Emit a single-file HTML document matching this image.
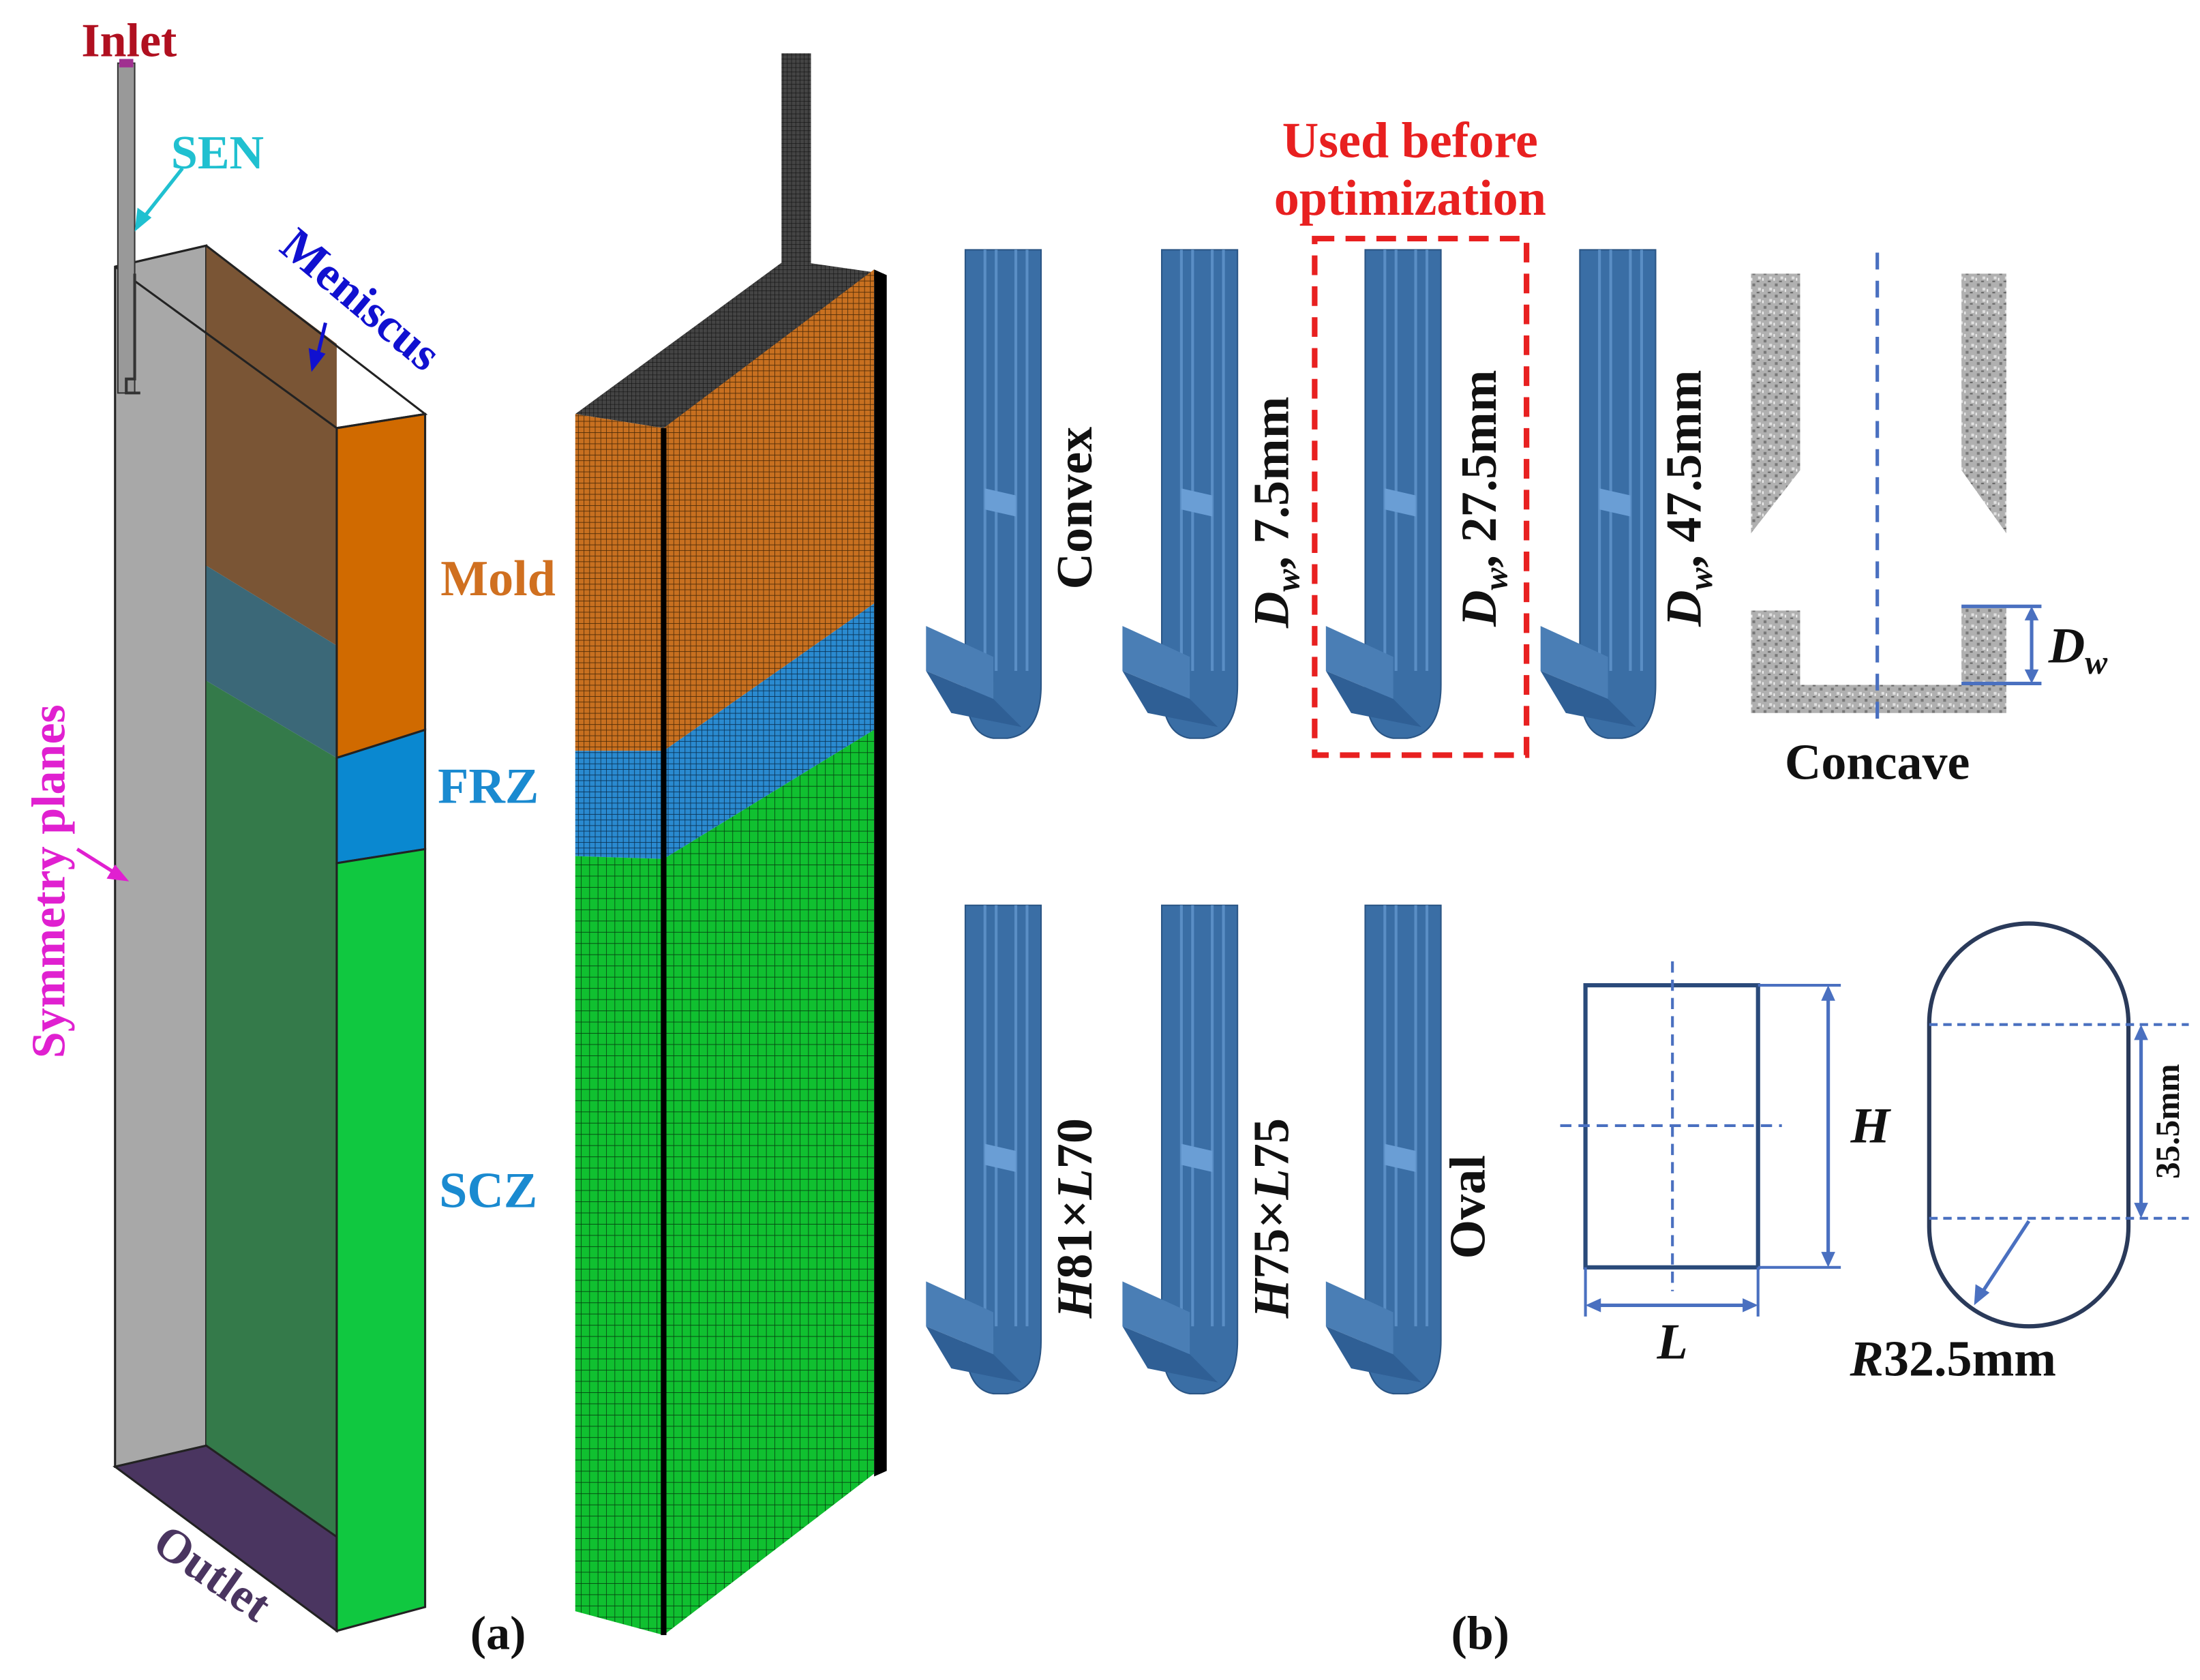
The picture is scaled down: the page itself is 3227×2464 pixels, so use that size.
<!DOCTYPE html>
<html><head><meta charset="utf-8"><style>
html,body{margin:0;padding:0;background:#fff;}
svg{display:block;}
text{font-family:"Liberation Serif",serif;font-weight:bold;}
</style></head><body>
<svg width="3227" height="2464" viewBox="0 0 1568 1197" preserveAspectRatio="none" xmlns="http://www.w3.org/2000/svg">
<defs>
<pattern id="mo" width="4" height="4" patternUnits="userSpaceOnUse"><rect width="4" height="4" fill="#c87020"/><path d="M0 0H4M0 0V4" stroke="#4a2a08" stroke-width="0.8"/></pattern>
<pattern id="mb" width="4" height="4" patternUnits="userSpaceOnUse"><rect width="4" height="4" fill="#2a8ad0"/><path d="M0 0H4M0 0V4" stroke="#0a3050" stroke-width="0.8"/></pattern>
<pattern id="mg" width="6" height="8" patternUnits="userSpaceOnUse"><rect width="6" height="8" fill="#10c030"/><path d="M0 0H6M0 0V8" stroke="#054010" stroke-width="0.8"/></pattern>
<pattern id="mk" width="3" height="3" patternUnits="userSpaceOnUse"><rect width="3" height="3" fill="#444"/><path d="M0 0H3M0 0V3" stroke="#111" stroke-width="0.6"/></pattern>
<pattern id="gr" width="8" height="8" patternUnits="userSpaceOnUse"><rect width="8" height="8" fill="#b0b0b0"/><rect x="1" y="2" width="2" height="2" fill="#777"/><rect x="5" y="5" width="2" height="2" fill="#e0e0e0"/><rect x="4" y="0" width="2" height="1" fill="#666"/><rect x="0" y="6" width="1" height="2" fill="#eee"/></pattern>
<g id="noz">
 <path d="M0 0H54V310Q54 345 30 348H20Q0 345 0 310Z" fill="#3a6ea5" stroke="#2a5585" stroke-width="1"/>
 <path d="M14 0V300M22 0V300M36 0V300M44 0V300" stroke="#5a8ec5" stroke-width="2"/>
 <path d="M14 170L36 175V190L14 185Z" fill="#6a9ed5"/>
 <path d="M-28 268L20 290V320L-28 300Z" fill="#4a7eb5"/>
 <path d="M-28 300L20 320L40 340L-10 330Z" fill="#2f5f95"/>
</g>
</defs>
<rect width="1568" height="1197" fill="#fff"/>

<polygon points="82,190 147,175 147,1030 82,1045" fill="#a8a8a8" stroke="#222" stroke-width="1.5"/>
<polygon points="147,175 240,245 240,460 147,403" fill="#7a5535"/>
<polygon points="147,403 240,460 240,540 147,485" fill="#3b6878"/>
<polygon points="147,485 240,540 240,1095 147,1030" fill="#347a4a"/>
<polygon points="82,1045 147,1030 240,1095 240,1162" fill="#4a3560" stroke="#222" stroke-width="1.5"/>
<polygon points="240,305 303,295 303,520 240,540" fill="#d06a00" stroke="#222" stroke-width="1.5"/>
<polygon points="240,540 303,520 303,605 240,615" fill="#0a88d0" stroke="#222" stroke-width="1.5"/>
<polygon points="240,615 303,605 303,1145 240,1162" fill="#10c840" stroke="#222" stroke-width="1.5"/>
<polyline points="82,190 147,175 303,295 240,305 82,190" fill="none" stroke="#222" stroke-width="1.5"/>
<rect x="84" y="45" width="12" height="235" fill="#999" stroke="#333"/>
<rect x="85" y="42" width="10" height="6" fill="#a03090"/>
<path d="M96 195V270H90V280H100" fill="none" stroke="#333" stroke-width="2"/>

<rect x="557" y="38" width="21" height="152" fill="url(#mk)"/>
<polygon points="410,295 560,185 630,195 473,305" fill="url(#mk)"/>
<polygon points="410,295 473,305 473,535 410,535" fill="url(#mo)"/>
<polygon points="410,535 473,535 473,612 410,610" fill="url(#mb)"/>
<polygon points="410,610 473,612 473,1165 410,1148" fill="url(#mg)"/>
<polygon points="473,305 623,192 623,430 473,535" fill="url(#mo)"/>
<polygon points="473,535 623,430 623,520 473,612" fill="url(#mb)"/>
<polygon points="473,612 623,520 623,1050 473,1165" fill="url(#mg)"/>
<line x1="473" y1="305" x2="473" y2="1165" stroke="#000" stroke-width="4"/>
<polygon points="623,192 632,196 632,1048 623,1052" fill="#000"/>

<text x="92" y="40" font-size="34" fill="#b01020" text-anchor="middle">Inlet</text>
<text x="155" y="120" font-size="34" fill="#20c0d0" text-anchor="middle">SEN</text>
<line x1="130" y1="120" x2="100" y2="158" stroke="#20c0d0" stroke-width="2.5"/>
<polygon points="96,165 98,148 108,155" fill="#20c0d0"/>
<text transform="translate(250,222) rotate(40)" font-size="34" fill="#1010d0" text-anchor="middle">Meniscus</text>
<line x1="232" y1="230" x2="226" y2="255" stroke="#1010d0" stroke-width="2.5"/>
<polygon points="222,265 220,248 232,252" fill="#1010d0"/>
<text x="355" y="424" font-size="36" fill="#d07020" text-anchor="middle">Mold</text>
<text x="348" y="572" font-size="36" fill="#1a8ad0" text-anchor="middle">FRZ</text>
<text x="348" y="860" font-size="36" fill="#1a8ad0" text-anchor="middle">SCZ</text>
<text transform="translate(46,628) rotate(-90)" font-size="34" fill="#e020d0" text-anchor="middle">Symmetry planes</text>
<line x1="55" y1="605" x2="82" y2="622" stroke="#e020d0" stroke-width="2.5"/>
<polygon points="92,628 76,626 82,616" fill="#e020d0"/>
<text transform="translate(145,1130) rotate(35)" font-size="34" fill="#4a3560" text-anchor="middle">Outlet</text>
<text x="355" y="1175" font-size="34" fill="#111" text-anchor="middle">(a)</text>
<text x="1055" y="1175" font-size="34" fill="#111" text-anchor="middle">(b)</text>

<use href="#noz" x="688" y="178"/>
<use href="#noz" x="828" y="178"/>
<use href="#noz" x="973" y="178"/>
<use href="#noz" x="1126" y="178"/>
<use href="#noz" x="688" y="645"/>
<use href="#noz" x="828" y="645"/>
<use href="#noz" x="973" y="645"/>
<text transform="translate(778,362) rotate(-90)" font-size="36" fill="#111" text-anchor="middle">Convex</text>
<text transform="translate(918,365) rotate(-90)" font-size="36" fill="#111" text-anchor="middle" font-style="italic">D<tspan font-size="24" dy="8">w</tspan><tspan dy="-8" font-style="normal">, 7.5mm</tspan></text>
<text transform="translate(1066,355) rotate(-90)" font-size="36" fill="#111" text-anchor="middle" font-style="italic">D<tspan font-size="24" dy="8">w</tspan><tspan dy="-8" font-style="normal">, 27.5mm</tspan></text>
<text transform="translate(1212,355) rotate(-90)" font-size="36" fill="#111" text-anchor="middle" font-style="italic">D<tspan font-size="24" dy="8">w</tspan><tspan dy="-8" font-style="normal">, 47.5mm</tspan></text>
<text transform="translate(778,868) rotate(-90)" font-size="36" fill="#111" text-anchor="middle" font-style="italic">H<tspan font-style="normal">81×</tspan>L<tspan font-style="normal">70</tspan></text>
<text transform="translate(918,868) rotate(-90)" font-size="36" fill="#111" text-anchor="middle" font-style="italic">H<tspan font-style="normal">75×</tspan>L<tspan font-style="normal">75</tspan></text>
<text transform="translate(1058,860) rotate(-90)" font-size="36" fill="#111" text-anchor="middle">Oval</text>

<rect x="937" y="170" width="151" height="368" fill="none" stroke="#e82020" stroke-width="4" stroke-dasharray="14,8"/>
<text x="1005" y="112" font-size="36" fill="#e82020" text-anchor="middle">Used before</text>
<text x="1005" y="153" font-size="36" fill="#e82020" text-anchor="middle">optimization</text>

<polygon points="1248,195 1283,195 1283,335 1248,380" fill="url(#gr)"/>
<polygon points="1398,195 1430,195 1430,380 1398,335" fill="url(#gr)"/>
<polygon points="1248,435 1283,435 1283,488 1398,488 1398,432 1430,432 1430,508 1248,508" fill="url(#gr)"/>
<line x1="1338" y1="180" x2="1338" y2="515" stroke="#4a70c0" stroke-width="2.5" stroke-dasharray="12,8"/>
<path d="M1398 432H1455M1398 487H1455" stroke="#4a70c0" stroke-width="2.5"/>
<line x1="1448" y1="436" x2="1448" y2="483" stroke="#4a70c0" stroke-width="2.5"/>
<polygon points="1448,432 1443,442 1453,442" fill="#4a70c0"/>
<polygon points="1448,487 1443,477 1453,477" fill="#4a70c0"/>
<text x="1460" y="472" font-size="36" fill="#111" font-style="italic">D<tspan font-size="24" dy="8">w</tspan></text>
<text x="1338" y="555" font-size="36" fill="#111" text-anchor="middle">Concave</text>

<rect x="1130" y="702" width="123" height="201" fill="none" stroke="#2a4a7a" stroke-width="3"/>
<line x1="1192" y1="685" x2="1192" y2="920" stroke="#4a70c0" stroke-width="2" stroke-dasharray="8,5"/>
<line x1="1112" y1="802" x2="1270" y2="802" stroke="#4a70c0" stroke-width="2" stroke-dasharray="8,5"/>
<path d="M1253 702H1312M1253 903H1312M1130 903V938M1253 903V938" stroke="#4a70c0" stroke-width="2"/>
<line x1="1303" y1="706" x2="1303" y2="899" stroke="#4a70c0" stroke-width="2.5"/>
<polygon points="1303,702 1298,713 1308,713" fill="#4a70c0"/>
<polygon points="1303,903 1298,892 1308,892" fill="#4a70c0"/>
<line x1="1134" y1="930" x2="1249" y2="930" stroke="#4a70c0" stroke-width="2.5"/>
<polygon points="1130,930 1141,925 1141,935" fill="#4a70c0"/>
<polygon points="1253,930 1242,925 1242,935" fill="#4a70c0"/>
<text x="1333" y="814" font-size="36" fill="#111" text-anchor="middle" font-style="italic">H</text>
<text x="1192" y="968" font-size="36" fill="#111" text-anchor="middle" font-style="italic">L</text>

<rect x="1375" y="658" width="142" height="287" rx="71" ry="71" fill="none" stroke="#2a3a5a" stroke-width="3"/>
<line x1="1375" y1="730" x2="1560" y2="730" stroke="#4a70c0" stroke-width="2" stroke-dasharray="6,4"/>
<line x1="1375" y1="868" x2="1560" y2="868" stroke="#4a70c0" stroke-width="2" stroke-dasharray="6,4"/>
<line x1="1526" y1="734" x2="1526" y2="864" stroke="#4a70c0" stroke-width="2.5"/>
<polygon points="1526,730 1521,741 1531,741" fill="#4a70c0"/>
<polygon points="1526,868 1521,857 1531,857" fill="#4a70c0"/>
<text transform="translate(1553,799) rotate(-90)" font-size="24" fill="#111" text-anchor="middle">35.5mm</text>
<line x1="1446" y1="870" x2="1412" y2="922" stroke="#4a70c0" stroke-width="2.5"/>
<polygon points="1407,930 1408,915 1418,921" fill="#4a70c0"/>
<text x="1392" y="980" font-size="36" fill="#111" text-anchor="middle"><tspan font-style="italic">R</tspan>32.5mm</text>
</svg>
</body></html>
